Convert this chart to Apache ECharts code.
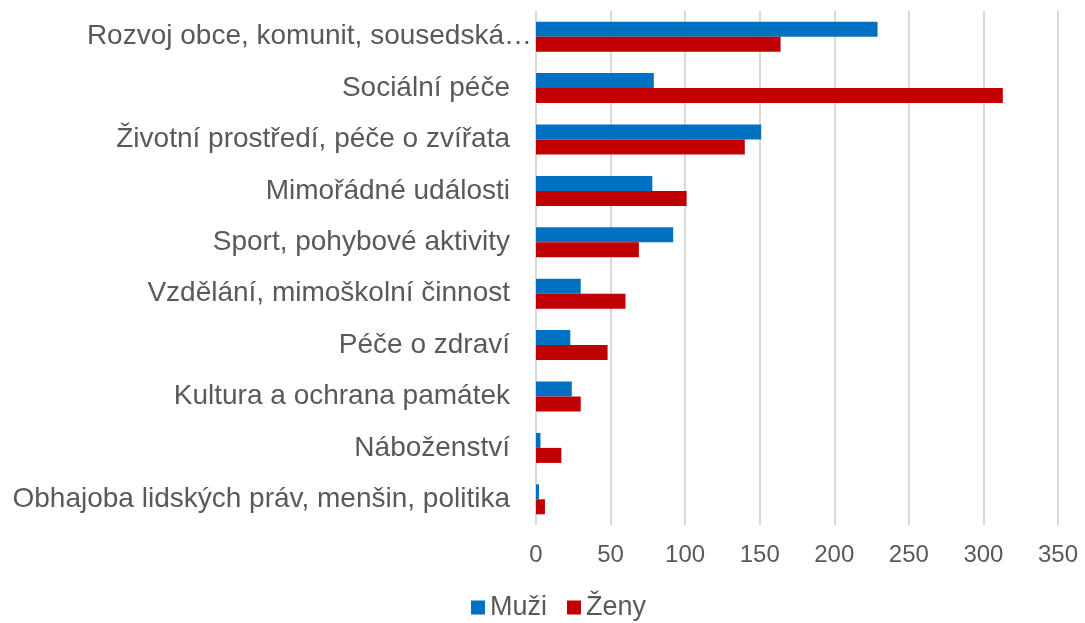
<!DOCTYPE html>
<html>
<head>
<meta charset="utf-8">
<script src="https://cdn.jsdelivr.net/npm/echarts@6/dist/echarts.min.js"></script>
<style>
html,body{margin:0;padding:0;background:#fff;}
#chart{width:1085px;height:623px;}
</style>
</head>
<body>
<div id="chart"></div>
<script>
const categories = [
  "Rozvoj obce, komunit, sousedská…",
  "Sociální péče",
  "Životní prostředí, péče o zvířata",
  "Mimořádné události",
  "Sport, pohybové aktivity",
  "Vzdělání, mimoškolní činnost",
  "Péče o zdraví",
  "Kultura a ochrana památek",
  "Náboženství",
  "Obhajoba lidských práv, menšin, politika"
];
const muzi = [229, 79, 151, 78, 92, 30, 23, 24, 3, 2];
const zeny = [164, 313, 140, 101, 69, 60, 48, 30, 17, 6];
const xTicks = { min: 0, max: 350, interval: 50 };

const chart = echarts.init(document.getElementById('chart'));
const font = '"Liberation Sans", Arial, sans-serif';
chart.setOption({
  animation: false,
  backgroundColor: '#ffffff',
  grid: { left: 536, right: 27, top: 11, bottom: 98, containLabel: false },
  legend: {
    data: ['Muži', 'Ženy'],
    bottom: -3,
    left: 466,
    itemWidth: 14,
    itemHeight: 14,
    itemGap: 20,
    icon: 'rect',
    textStyle: { color: '#595959', fontSize: 27, fontFamily: font }
  },
  xAxis: {
    type: 'value',
    min: xTicks.min, max: xTicks.max, interval: xTicks.interval,
    axisLine: { show: false },
    axisTick: { show: false },
    axisLabel: { color: '#595959', fontSize: 24, fontFamily: font, margin: 18 },
    splitLine: { show: true, lineStyle: { color: '#d9d9d9', width: 2 } }
  },
  yAxis: {
    type: 'category',
    data: categories,
    inverse: true,
    axisLine: { show: false },
    axisTick: { show: false },
    axisLabel: {
      color: '#595959', fontSize: 28, fontFamily: font, margin: 4,
      formatter: function (v, i) { return i === 0 ? '{a|' + v + '}' : '{b|' + v + '}'; },
      rich: {
        a: { color: '#595959', fontSize: 28, fontFamily: font },
        b: { color: '#595959', fontSize: 28, fontFamily: font, padding: [0, 22, 0, 0] }
      }
    }
  },
  series: [
    { name: 'Muži', type: 'bar', data: muzi, barWidth: 15, barGap: '0%',
      itemStyle: { color: '#0070C0' } },
    { name: 'Ženy', type: 'bar', data: zeny, barWidth: 15, barGap: '0%',
      itemStyle: { color: '#C00000' } }
  ]
});
</script>
</body>
</html>
